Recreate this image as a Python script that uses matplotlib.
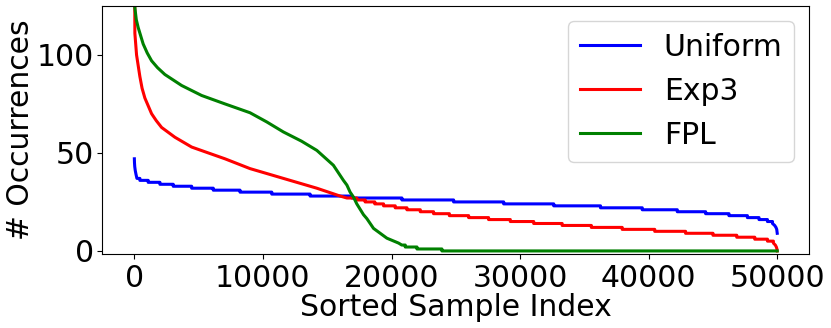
import matplotlib
matplotlib.use("Agg")
import matplotlib.pyplot as plt

# --- readings ---
# each series: curved head (sample index, count), flat runs (start index, count),
# and the curved tail at the end of the sorted list

uniform_head_x = [0, 10, 30, 70, 130]
uniform_head_y = [47, 45, 43, 41, 39]
uniform_run_x = [200, 428, 1075, 1986, 3022, 4455, 6137, 8217, 10685, 13668,
                 16916, 20810, 24829, 28723, 32617, 36254, 39502, 42227,
                 44431, 46246, 47679, 48583, 49237]
uniform_run_y = [37, 36, 35, 34, 33, 32, 31, 30, 29, 28, 27, 26, 25, 24, 23,
                 22, 21, 20, 19, 18, 17, 16, 15]
uniform_tail_x = [49630, 49800, 49900, 49960, 49999]
uniform_tail_y = [14, 13, 12, 11, 9]

exp3_head_x = [0, 40, 171, 428, 600, 818, 1340, 1700, 2118, 3154, 4455, 5748,
               7048, 8995, 11590, 14190, 16000]
exp3_head_y = [190, 111, 100, 89, 83, 78, 70, 66.5, 63, 58, 53, 50, 47, 42,
               37, 32, 28]
exp3_run_x = [16530, 17300, 17950, 18700, 19380, 20290, 21200, 22240, 23270,
              24500, 26000, 27550, 29240, 31060, 33270, 35540, 37940, 40470,
              42870, 45000, 46850, 48250, 49240]
exp3_run_y = [27, 26, 25, 24, 23, 22, 21, 20, 19, 18, 17, 16, 15, 14, 13, 12,
              11, 10, 9, 8, 7, 6, 5]
exp3_tail_x = [49700, 49850, 49930, 49975, 49999]
exp3_tail_y = [4, 3, 2, 1, 0]

fpl_head_x = [0, 40, 150, 296, 685, 1000, 1340, 1800, 2375, 3676, 5233, 7048,
              8995, 10300, 11590, 13000, 14190, 15480, 16260, 16530, 16780,
              17040, 17300, 17820, 18080, 18600, 19640, 20550]
fpl_head_y = [140, 124, 118, 114, 105.6, 101, 97, 93.5, 90, 84.4, 79.3, 75,
              70.5, 65.8, 60.7, 56, 51.3, 43.7, 36, 33.6, 30, 27.5, 24, 18.5,
              16.5, 11.5, 6.5, 4]
fpl_run_x = [20800, 21070, 21980, 23920]
fpl_run_y = [3, 2, 1, 0]
fpl_tail_x = [49999]
fpl_tail_y = [0]

labels = ["Uniform", "Exp3", "FPL"]
colors = ["blue", "red", "green"]


def trace(head_x, head_y, run_x, run_y, tail_x, tail_y):
    # join the curved parts with the flat runs drawn as stairs
    xs = list(head_x)
    ys = list(head_y)
    for i in range(len(run_x)):
        end = run_x[i + 1] if i + 1 < len(run_x) else tail_x[0]
        xs += [run_x[i], end]
        ys += [run_y[i], run_y[i]]
    xs += list(tail_x)
    ys += list(tail_y)
    return xs, ys


series = [
    trace(uniform_head_x, uniform_head_y, uniform_run_x, uniform_run_y,
          uniform_tail_x, uniform_tail_y),
    trace(exp3_head_x, exp3_head_y, exp3_run_x, exp3_run_y,
          exp3_tail_x, exp3_tail_y),
    trace(fpl_head_x, fpl_head_y, fpl_run_x, fpl_run_y,
          fpl_tail_x, fpl_tail_y),
]

plt.rcParams['font.family'] = ['DejaVu Sans']
fs = 21.5
fig = plt.figure(figsize=(8.31, 3.28), dpi=100)
ax = fig.add_subplot(111)
fig.subplots_adjust(left=0.123, right=0.974, bottom=0.226, top=0.982)

for (xs, ys), lab, col in zip(series, labels, colors):
    ax.plot(xs, ys, color=col, label=lab, linewidth=2.2)

ax.set_xlim(-2500, 52500)
ax.set_ylim(-1.5, 125)
ax.set_xticks([0, 10000, 20000, 30000, 40000, 50000])
ax.set_yticks([0, 50, 100])
ax.tick_params(labelsize=fs)
ax.tick_params(axis='y', pad=2.5)
ax.set_xlabel("Sorted Sample Index", fontsize=fs, labelpad=0)
ax.set_ylabel("# Occurrences", fontsize=fs, labelpad=1)
ax.legend(loc="upper right", fontsize=fs)

fig.savefig("out.png", dpi=100)
